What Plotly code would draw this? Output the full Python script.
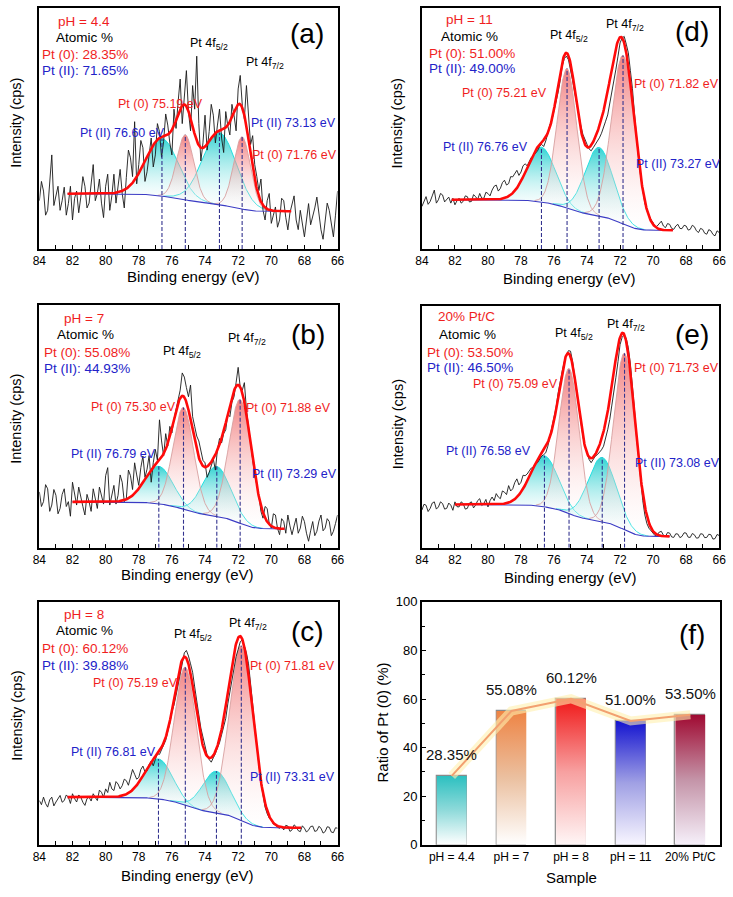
import numpy as np
import plotly.graph_objects as go

W, H = 733, 897
FONT = "Arial, Liberation Sans, sans-serif"
RED_TXT = "#F01E1E"
BLUE_TXT = "#2222C8"

# ---------------- data ----------------
# raw spectra (arbitrary intensity, 0-100 frame scale), sampled every 0.125 eV from 84 eV down to 66 eV
raw_a = [20, 28, 24, 14, 16, 27, 39, 18, 21.5, 26, 16, 20, 25.6, 14, 18.8, 26,
         12, 21, 24, 15, 21.5, 30, 26, 17, 19, 28, 35, 20, 23, 29, 19, 13,
         26, 31, 16, 22, 31, 19, 25.6, 33, 23, 17, 29.7, 41, 37.8, 30, 52.8, 27,
         35, 45, 42, 28, 32, 40, 46, 34, 39, 52, 48.7, 38, 44.6, 56, 51.4, 44,
         39, 58, 50, 61, 70.5, 52, 62.3, 74, 57, 49, 67.8, 58, 80, 52, 36.5, 44,
         55.5, 41, 48.7, 60, 55.5, 44, 51.4, 58, 46, 40, 57, 51, 47.3, 60, 55.5, 49,
         66.4, 72, 59.6, 54, 67.8, 56, 43.3, 47, 35, 30, 24.2, 29, 16, 12, 20, 23,
         10.6, 14, 17.4, 9, 12, 21, 20, 13, 7.9, 15, 18.8, 22, 12, 8, 16, 11,
         5, 12, 18.8, 10, 13.3, 17, 21.5, 14, 7.9, 4, 12, 19, 16, 10, 5, 14, 24]
raw_b = [23, 17, 19, 26, 24.3, 15, 17.6, 24, 21.6, 14, 16.2, 22, 24.3, 17, 19, 13,
         27, 22, 17.6, 25, 21.6, 17, 13.5, 22, 19, 15, 24.3, 20, 16.2, 25, 21.6, 18,
         29.7, 33, 17.6, 22, 25.7, 18, 21.6, 30, 27, 19, 20.3, 32, 29.7, 24, 35, 30,
         25.7, 33, 37.8, 29, 32.4, 38, 27, 35, 40.5, 36, 52.7, 44, 37.8, 47, 41.9, 50,
         47.3, 53, 56.8, 62, 64.9, 72, 70.3, 66, 62.2, 67, 54, 50, 46, 44, 40.5, 36,
         35, 29, 31, 34, 36.5, 32, 40.5, 45, 43.2, 47, 48.6, 55, 54, 60, 62.2, 68,
         74.3, 66, 64.9, 68, 56.8, 50, 43.2, 36, 29.7, 26, 21.6, 15, 12.2, 17, 16.2, 10,
         8.1, 14, 13.5, 8, 5.4, 12, 10.8, 6, 13.5, 9, 5.4, 9, 12.2, 6, 8.1, 13,
         10.8, 6, 2.7, 7, 10.8, 5, 6.8, 11, 13.5, 7, 8.1, 12, 10.8, 5, 6.8, 10, 13.5]
raw_c = [18.2, 16.5, 19.6, 17, 15.5, 18.5, 19.6, 16, 17.6, 19, 20.3, 17.5, 18.2, 20.5, 19.6, 17,
         21, 19, 17.6, 20.5, 19.6, 17.5, 16.2, 19, 19.6, 18, 21, 19.5, 18.2, 22.5, 21.6, 19.5,
         23, 21.5, 25.7, 23, 22.3, 26, 25, 23, 24.3, 27, 26.4, 24.5, 27.7, 31, 29, 27,
         27.7, 31, 32.4, 30, 30.4, 33, 34.5, 32.5, 35.1, 37.5, 37.2, 39, 41.2, 43, 46.6, 50,
         54.7, 57.5, 61.5, 66, 71, 74, 79, 80, 77.7, 74.5, 71, 65, 60.1, 53.5, 48, 44,
         41.2, 37, 35.1, 34, 35.8, 37.5, 39.9, 42, 45.3, 48.5, 52, 58, 62.8, 68, 73.6, 77.5,
         80.4, 83.5, 84.5, 82, 79, 74.5, 67, 58, 49, 40, 33.1, 25.5, 19.6, 15.5, 12.8, 11,
         10.1, 8.5, 8.1, 7.2, 6.8, 7.5, 6.1, 8, 7.7, 5.5, 6.1, 8.2, 7.4, 5.8, 5.4, 7.8,
         6.8, 5.2, 6.1, 7.5, 7.7, 5.5, 5.8, 7.6, 6.8, 4.8, 5.4, 7.4, 7.2, 5.2, 5, 7, 6.8]
raw_d = [17.6, 20, 21.7, 18.5, 19.7, 22, 24.4, 19, 20.4, 23, 22.4, 19.5, 20.4, 21.5, 19, 21,
         18.3, 20, 21, 19, 19.7, 22, 21.7, 19.5, 19.7, 22.5, 21.7, 20.5, 23, 21, 21, 23.5,
         23, 22, 24.4, 26, 26.5, 24, 25.1, 27.5, 28.5, 26.5, 27.1, 30, 29.9, 31, 32.6, 30.5,
         31.9, 34.5, 35.3, 34.5, 36.6, 38, 38.7, 39.5, 40.7, 42.5, 43.4, 42.5, 44.8, 48, 51.6, 53.5,
         57, 61, 65.1, 70, 76, 79, 80, 78.5, 74.6, 70, 65.1, 60, 55.6, 51, 47.5, 45,
         43.4, 41.5, 40.7, 42, 43.4, 44.5, 46.1, 48, 50.2, 53, 55.6, 60, 65.1, 70, 74.6, 80,
         85.5, 87.5, 88.2, 85, 81.4, 74, 66.5, 56, 46.1, 37, 29.9, 24, 19, 16, 13.6, 12,
         10.9, 9, 9.5, 10.5, 11.5, 9.5, 8.8, 10.5, 10.2, 8.5, 8.1, 9.5, 10.2, 8.5, 8.4, 9.8,
         9.5, 7.8, 8.1, 9.8, 9.2, 7.5, 6.8, 8.5, 8.1, 6.5, 6.1, 8, 7.5, 6, 5.4, 7.5, 6.8]
raw_e = [15.6, 18, 17.6, 15, 16.3, 18.5, 19, 16, 16.9, 19, 18.3, 16, 16.3, 18.5, 17.6, 15.5,
         19, 17, 16.9, 19, 18.3, 16, 16.3, 18.5, 19, 16.5, 17.6, 19.5, 20.3, 17.5, 18.3, 20,
         16.9, 19.5, 21, 19.5, 22.4, 21, 20.3, 23.5, 23, 22, 25.7, 23.5, 24.4, 27, 28.5, 26,
         27.1, 30, 29.8, 30.5, 31.8, 33, 33.2, 34.5, 35.2, 36.5, 37.9, 38.5, 39.3, 42, 46, 50,
         53, 58, 64, 69, 73.2, 77, 79.9, 81.5, 81.3, 77, 71.8, 65, 58.3, 51.5, 46, 42,
         39.3, 36.5, 35.2, 36.5, 37.9, 38.5, 39.3, 40.5, 42, 45, 48.8, 53, 58.3, 64, 70.5, 77,
         84, 87, 88.1, 86.5, 82.7, 76, 67.8, 57, 46, 36, 27.1, 19.5, 13.6, 10, 8.1, 7,
         6.1, 5, 5.4, 6.5, 6.8, 5.2, 4.7, 6.3, 6.1, 4.5, 4.3, 5.8, 5.7, 4.2, 4.7, 6.2,
         6.1, 4.4, 4.3, 5.9, 5.4, 4, 4.1, 5.8, 5.7, 4.2, 4.3, 5.6, 5.4, 3.6, 3.8, 5.5, 5.1]

# fitted components: centre (eV), height, FWHM (eV)
species = ["Pt(II)", "Pt(0)", "Pt(II)", "Pt(0)"]
cen_a = [76.60, 75.19, 73.13, 71.76]; hgt_a = [24, 27, 30, 30]; fw_a = [2.3, 1.2, 2.4, 1.2]
cen_b = [76.79, 75.30, 73.29, 71.88]; hgt_b = [15.5, 42, 20.5, 51]; fw_b = [2.0, 1.45, 2.0, 1.6]
cen_c = [76.81, 75.19, 73.31, 71.81]; hgt_c = [16.5, 57, 17, 72]; fw_c = [2.0, 1.55, 2.0, 1.7]
cen_d = [76.76, 75.21, 73.27, 71.82]; hgt_d = [22.8, 58, 28.4, 70]; fw_d = [2.0, 1.4, 2.0, 1.65]
cen_e = [76.58, 75.09, 73.08, 71.73]; hgt_e = [21.1, 60, 26.5, 73]; fw_e = [2.0, 1.43, 2.0, 1.53]
# Shirley background end levels (high-BE side, low-BE side) and fit window
bg_a = [22.9, 15.6]; win_a = [82.3, 68.8]
bg_b = [18.9, 7.8]; win_b = [82.0, 69.2]
bg_c = [19.6, 7.0]; win_c = [82.3, 68.2]
bg_d = [20.4, 7.7]; win_d = [82.2, 68.8]
bg_e = [17.9, 4.7]; win_e = [82.0, 69.0]

# panel (f)
samples = ["pH = 4.4", "pH = 7", "pH = 8", "pH = 11", "20% Pt/C"]
ratio_pt0 = [28.35, 55.08, 60.12, 51.00, 53.50]
ratio_labels = ["28.35%", "55.08%", "60.12%", "51.00%", "53.50%"]
xticks_be = [84, 82, 80, 78, 76, 74, 72, 70, 68, 66]

# ---------------- styles / layout ----------------
bar_scales = [
    [[0, "#FFFFFF"], [0.5, "#8FDADA"], [1, "#2CC0C0"]],
    [[0, "#FFFFFF"], [0.5, "#EBC0A0"], [1, "#EE8444"]],
    [[0, "#FFF6F6"], [0.5, "#F7A0A0"], [1, "#F01818"]],
    [[0, "#F8F6FF"], [0.5, "#A0A0E4"], [1, "#1414D0"]],
    [[0, "#F6F0FA"], [0.5, "#C494A8"], [1, "#A00A32"]],
]
comp_fill = {"Pt(II)": "rgba(30,205,205,0.9)", "Pt(0)": "rgba(238,95,95,0.8)"}
comp_line = {"Pt(II)": "#22E0E0", "Pt(0)": "rgba(215,160,160,0.9)"}

boxes = {  # pixel frame boxes: left, right, top, bottom
    1: (33, 337, 1, 246),
    2: (33, 337, 303, 550),
    3: (33, 337, 605, 852),
    4: (423, 726, 1, 246),
    5: (423, 726, 304, 550),
    6: (423, 727, 605, 852),
}

fig = go.Figure()


def gauss(x, c, h, w):
    return h * np.exp(-4 * np.log(2) * (x - c) ** 2 / w ** 2)


def add_spectrum(n, raw, cen, hgt, fw, bg_lv, win):
    xa, ya = f"x{n}", f"y{n}"
    x = np.linspace(win[0], win[1], 500)
    comps = [gauss(x, c, h, w) for c, h, w in zip(cen, hgt, fw)]
    total = np.sum(comps, axis=0)
    cum = np.cumsum(total[::-1])[::-1]
    bg = bg_lv[1] + (bg_lv[0] - bg_lv[1]) * cum / cum[0]
    for k in [0, 2, 1, 3]:
        comp = comps[k]
        sp = species[k]
        m = comp > 0.004 * comp.max()
        fig.add_trace(go.Scatter(x=x[m], y=bg[m], mode="lines", line=dict(width=0),
                                 xaxis=xa, yaxis=ya, showlegend=False, hoverinfo="skip"))
        fig.add_trace(go.Scatter(
            x=x[m], y=bg[m] + comp[m], mode="lines", fill="tonexty",
            fillgradient=dict(type="vertical",
                              colorscale=[[0, "rgba(255,255,255,0.15)"], [1, comp_fill[sp]]]),
            line=dict(color=comp_line[sp], width=1), xaxis=xa, yaxis=ya,
            showlegend=False, hoverinfo="skip"))
    e_raw = [84 - 0.125 * i for i in range(len(raw))]
    fig.add_trace(go.Scatter(x=e_raw, y=raw, mode="lines", line=dict(color="#1a1a1a", width=0.9),
                             xaxis=xa, yaxis=ya, showlegend=False))
    fig.add_trace(go.Scatter(x=x, y=bg, mode="lines", line=dict(color="#3B3BC4", width=1.1),
                             xaxis=xa, yaxis=ya, showlegend=False))
    for k, c in enumerate(cen):
        i = int(np.argmin(np.abs(x - c)))
        top = bg[i] + comps[k][i]
        fig.add_trace(go.Scatter(x=[c, c], y=[0, top], mode="lines",
                                 line=dict(color="#33338F", width=1.1, dash="4px,2px"),
                                 xaxis=xa, yaxis=ya, showlegend=False, hoverinfo="skip"))
    fig.add_trace(go.Scatter(x=x, y=bg + total, mode="lines", line=dict(color="#FF0A0A", width=2.6),
                             xaxis=xa, yaxis=ya, showlegend=False))


add_spectrum(1, raw_a, cen_a, hgt_a, fw_a, bg_a, win_a)
add_spectrum(2, raw_b, cen_b, hgt_b, fw_b, bg_b, win_b)
add_spectrum(3, raw_c, cen_c, hgt_c, fw_c, bg_c, win_c)
add_spectrum(4, raw_d, cen_d, hgt_d, fw_d, bg_d, win_d)
add_spectrum(5, raw_e, cen_e, hgt_e, fw_e, bg_e, win_e)

# ---- panel (f) ----
idx = list(range(len(samples)))
half = 0.25
for i, v in enumerate(ratio_pt0):
    fig.add_trace(go.Scatter(
        x=[i - half, i + half, i + half, i - half, i - half], y=[0, 0, v, v, 0],
        mode="lines", fill="toself", line=dict(width=0),
        fillgradient=dict(type="vertical", colorscale=bar_scales[i]),
        xaxis="x6", yaxis="y6", showlegend=False, hoverinfo="skip"))
fig.add_trace(go.Bar(x=idx, y=ratio_pt0, width=2 * half, marker=dict(color="rgba(0,0,0,0)",
                     line=dict(color="#8A8A8A", width=1.2)),
                     xaxis="x6", yaxis="y6", showlegend=False))
fig.add_trace(go.Scatter(x=idx, y=ratio_pt0, mode="lines", line=dict(color="rgba(255,240,175,0.6)", width=9),
                         xaxis="x6", yaxis="y6", showlegend=False, hoverinfo="skip"))
fig.add_trace(go.Scatter(x=idx, y=ratio_pt0, mode="lines", line=dict(color="#F2A070", width=2),
                         xaxis="x6", yaxis="y6", showlegend=False))

annotations = []
for i, (v, lab) in enumerate(zip(ratio_pt0, ratio_labels)):
    annotations.append(dict(x=i, y=v, xref="x6", yref="y6", text=lab, showarrow=False, yshift=21,
                            font=dict(size=15, color="#111", family=FONT)))


def txt(px, py, text, color="black", size=12.5, xanchor="center", angle=0):
    annotations.append(dict(x=px / W, y=1 - py / H, xref="paper", yref="paper", text=text,
                            showarrow=False, xanchor=xanchor, yanchor="middle", textangle=angle,
                            font=dict(size=size, color=color, family=FONT)))


f52 = "Pt 4f<sub>5/2</sub>"
f72 = "Pt 4f<sub>7/2</sub>"
# (a)
txt(78, 15, "pH = 4.4", RED_TXT, 13.5); txt(79, 31, "Atomic %", "black", 13.5)
txt(34, 48, "Pt (0): 28.35%", RED_TXT, 13.5, "left"); txt(34, 65, "Pt (II): 71.65%", BLUE_TXT, 13.5, "left")
txt(206, 38, f52); txt(263, 57, f72); txt(306, 27, "(a)", "black", 28)
txt(156, 99, "Pt (0) 75.19 eV", RED_TXT); txt(118, 128, "Pt (II) 76.60 eV", BLUE_TXT)
txt(292, 118, "Pt (II) 73.13 eV", BLUE_TXT); txt(293, 151, "Pt (0) 71.76 eV", RED_TXT)
# (b)
txt(79, 317, "pH = 7", RED_TXT, 13.5); txt(80, 333, "Atomic %", "black", 13.5)
txt(36, 351, "Pt (0): 55.08%", RED_TXT, 13.5, "left"); txt(36, 368, "Pt (II): 44.93%", BLUE_TXT, 13.5, "left")
txt(178, 351, f52); txt(245, 338, f72); txt(307, 333, "(b)", "black", 28)
txt(129, 407, "Pt (0) 75.30 eV", RED_TXT); txt(287, 408, "Pt (0) 71.88 eV", RED_TXT)
txt(109, 455, "Pt (II) 76.79 eV", BLUE_TXT); txt(293, 475, "Pt (II) 73.29 eV", BLUE_TXT)
# (c)
txt(79, 618, "pH = 8", RED_TXT, 13.5); txt(79, 634, "Atomic %", "black", 13.5)
txt(34, 652, "Pt (0): 60.12%", RED_TXT, 13.5, "left"); txt(34, 670, "Pt (II): 39.88%", BLUE_TXT, 13.5, "left")
txt(190, 639, f52); txt(246, 627, f72); txt(306, 635, "(c)", "black", 28)
txt(131, 688, "Pt (0) 75.19 eV", RED_TXT); txt(291, 670, "Pt (0) 71.81 eV", RED_TXT)
txt(109, 758, "Pt (II) 76.81 eV", BLUE_TXT); txt(291, 783, "Pt (II) 73.31 eV", BLUE_TXT)
# (d)
txt(471, 13, "pH = 11", RED_TXT, 13.5); txt(472, 30, "Atomic %", "black", 13.5)
txt(428, 47, "Pt (0): 51.00%", RED_TXT, 13.5, "left"); txt(428, 63, "Pt (II): 49.00%", BLUE_TXT, 13.5, "left")
txt(573, 30, f52); txt(630, 18, f72); txt(698, 25, "(d)", "black", 28)
txt(507, 87, "Pt (0) 75.21 eV", RED_TXT); txt(683, 78, "Pt (0) 71.82 eV", RED_TXT)
txt(488, 142, "Pt (II) 76.76 eV", BLUE_TXT); txt(685, 160, "Pt (II) 73.27 eV", BLUE_TXT)
# (e)
txt(468, 315, "20% Pt/C", RED_TXT, 13.5); txt(469, 333, "Atomic %", "black", 13.5)
txt(426, 351, "Pt (0): 53.50%", RED_TXT, 13.5, "left"); txt(426, 367, "Pt (II): 46.50%", BLUE_TXT, 13.5, "left")
txt(578, 333, f52); txt(631, 323, f72); txt(698, 333, "(e)", "black", 28)
txt(518, 383, "Pt (0) 75.09 eV", RED_TXT); txt(683, 367, "Pt (0) 71.73 eV", RED_TXT)
txt(491, 452, "Pt (II) 76.58 eV", BLUE_TXT); txt(684, 464, "Pt (II) 73.08 eV", BLUE_TXT)
# (f)
txt(698, 638, "(f)", "black", 28)

# axis titles
for (px, py) in [(190, 274), (184, 577), (184, 883), (573, 276), (574, 580)]:
    txt(px, py, "Binding energy (eV)", "black", 15)
for (px, py) in [(9, 118), (9, 419), (10, 721), (398, 118), (399, 424)]:
    txt(px, py, "Intensity (cps)", "black", 14.5, "center", -90)
txt(575, 885, "Sample", "black", 15)
txt(383, 728, "Ratio of Pt (0) (%)", "black", 15, "center", -90)

layout = dict(
    width=W, height=H, margin=dict(l=0, r=0, t=0, b=0),
    paper_bgcolor="white", plot_bgcolor="white",
    font=dict(family=FONT, color="black"), showlegend=False,
    annotations=annotations, bargap=0,
)
for n, (l, r, t, b) in boxes.items():
    xd = [l / W, r / W]
    yd = [1 - b / H, 1 - t / H]
    ax = dict(domain=xd, anchor=f"y{n}", showline=True, linecolor="black", linewidth=1.5,
              mirror=True, showgrid=False, zeroline=False, ticklabeloverflow="allow",
              tickfont=dict(size=12, family=FONT))
    ay = dict(domain=yd, anchor=f"x{n}", showline=True, linecolor="black", linewidth=1.5,
              mirror=True, showgrid=False, zeroline=False, range=[0, 100])
    if n < 6:
        ax.update(range=[84, 66], tickmode="array", tickvals=xticks_be, ticks="inside", ticklen=4,
                  tickcolor="black", minor=dict(dtick=1, tick0=66, ticks="inside", ticklen=4, tickcolor="black"))
        ay.update(showticklabels=False, ticks="")
    else:
        ax.update(range=[-0.5, 4.5], tickmode="array", tickvals=idx, ticktext=samples, ticks="")
        ay.update(tickmode="linear", tick0=0, dtick=20, ticks="inside", ticklen=4, tickcolor="black",
                  tickfont=dict(size=13, family=FONT),
                  minor=dict(dtick=10, ticks="inside", ticklen=3, tickcolor="black"))
    key = "" if n == 1 else str(n)
    layout["xaxis" + key] = ax
    layout["yaxis" + key] = ay

fig.update_layout(**layout)
fig.write_html("out.html", config={"displayModeBar": False},
               post_script="document.body.style.margin='0px';")
